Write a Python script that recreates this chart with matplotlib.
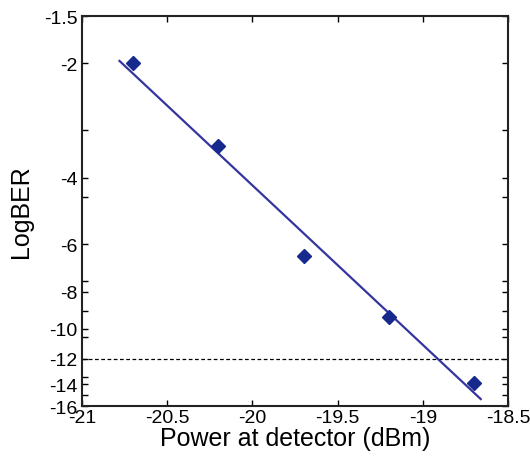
import numpy as np
import matplotlib
matplotlib.use("Agg")
import matplotlib.pyplot as plt

plt.rcParams['font.family'] = ['Liberation Sans', 'DejaVu Sans']
plt.rcParams['axes.unicode_minus'] = False

# measured points
power = [-20.7, -20.2, -19.7, -19.2, -18.7]
log_ber = [-2.0, -3.3, -6.43, -9.33, -13.95]

# fitted line (end points)
fit_x = [-20.78, -18.66]
fit_y = [-1.97, -15.34]

threshold = -12

yticks_major = [-1.5, -2, -4, -6, -8, -10, -12, -14, -16]
yticks_minor = [-3, -4.5, -7.5, -9, -10.5, -13.4, -15]
xticks = [-21, -20.5, -20, -19.5, -19, -18.5]


def fwd(v):
    v = np.asarray(v, dtype=float)
    return -np.log10(np.clip(-v, 1e-6, None))


def inv(u):
    return -10.0 ** (-np.asarray(u, dtype=float))


fig = plt.figure(figsize=(5.3, 4.6), dpi=100)
ax = fig.add_axes([0.1547, 0.1152, 0.8038, 0.8478])
ax.set_yscale('function', functions=(fwd, inv))

ax.plot(fit_x, fit_y, color='#3535a0', linewidth=1.6, zorder=2)
ax.plot(power, log_ber, linestyle='none', marker='D', markersize=7,
        color='#16298c', zorder=3)
ax.axhline(threshold, color='black', linestyle='--', linewidth=0.9,
           dashes=(3, 2), zorder=1)

ax.set_xlim(-21, -18.5)
ax.set_ylim(-16, -1.5)
ax.set_xticks(xticks)
ax.set_xticklabels([f"{t:g}" for t in xticks])
ax.set_yticks(yticks_major)
ax.set_yticklabels([f"{t:g}" for t in yticks_major])
ax.set_yticks(yticks_minor, minor=True)
ax.yaxis.set_minor_formatter(matplotlib.ticker.NullFormatter())
ax.xaxis.set_minor_locator(matplotlib.ticker.NullLocator())

ax.tick_params(which='both', direction='in', top=True, right=True,
               length=4, width=1, labelsize=14, pad=3)
ax.tick_params(axis='x', pad=2)
for s in ax.spines.values():
    s.set_linewidth(1.5)
    s.set_color('#222222')

ax.set_xlabel("Power at detector (dBm)", fontsize=18, labelpad=0)
ax.set_ylabel("LogBER", fontsize=18, labelpad=8)

fig.savefig("out.png", dpi=100)
